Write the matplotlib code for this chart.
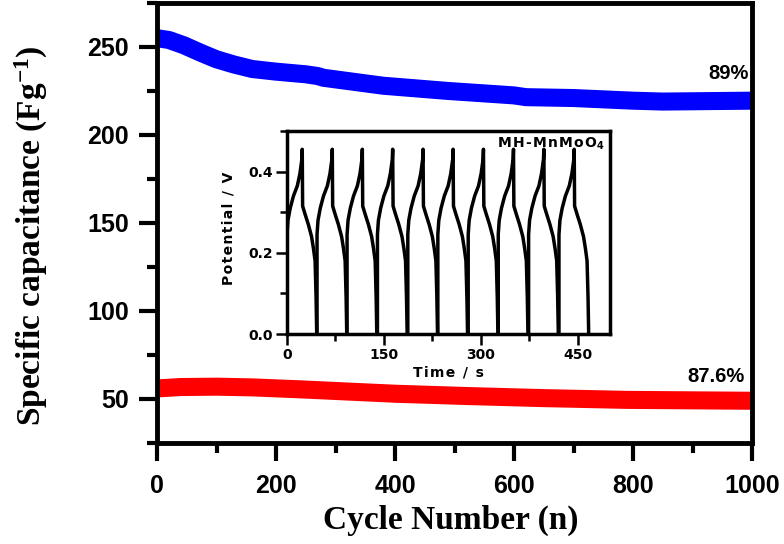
"""
Cycling stability of MH-MnMoO4 with GCD inset.
"""

import matplotlib.pyplot as plt
from matplotlib.ticker import MultipleLocator

plt.rcParams['mathtext.fontset'] = 'custom'
plt.rcParams['mathtext.rm'] = 'Liberation Serif:bold'
plt.rcParams['mathtext.bf'] = 'Liberation Serif:bold'
plt.rcParams['mathtext.sf'] = 'DejaVu Sans:bold'
plt.rcParams['mathtext.default'] = 'bf'

# main curves
blue_cycle = [0, 20, 45, 75, 100, 130, 160, 200, 250, 270, 280, 380, 490,
              600, 620, 700, 800, 850, 1000]
blue_cap = [255, 254, 251, 246.5, 243, 240, 237.5, 236, 234.5, 233.5, 232.5,
            228, 225, 222.5, 221.5, 221, 219.5, 219, 219.5]

red_cycle = [0, 40, 100, 160, 240, 400, 520, 650, 790, 1000]
red_cap = [56, 56.8, 57, 56.6, 55.5, 53, 51.7, 50.5, 49.5, 49]

# inset: one charge/discharge cycle shape and the start time of each cycle
gcd_dt = [0, 0, 1.5, 5, 10, 16, 20, 23, 23.6, 24.2, 28, 33, 38, 41, 43.5, 45, 46]
gcd_v = [0.0, 0.245, 0.28, 0.31, 0.34, 0.365, 0.395, 0.43, 0.455, 0.315,
         0.295, 0.27, 0.24, 0.21, 0.18, 0.09, 0.0]
cycle_start = [0, 46.5, 93, 140, 187, 233.5, 280.5, 327, 374, 421]

SANS = 'Liberation Sans'
SERIF = 'Liberation Serif'
INSET_FONT = 'DejaVu Sans'
HAIR = '\u200a'

fig = plt.figure(figsize=(7.84, 5.44), dpi=100)
ax = fig.add_axes([157 / 784, 1 - 443 / 544, 595 / 784, 440 / 544])

ax.plot(blue_cycle, blue_cap, color='#0000ff', lw=13, solid_capstyle='butt',
        solid_joinstyle='round')
ax.plot(red_cycle, red_cap, color='#ff0000', lw=13, solid_capstyle='butt',
        solid_joinstyle='round')

ax.set_xlim(0, 1000)
ax.set_ylim(25, 275)
ax.xaxis.set_major_locator(MultipleLocator(200))
ax.xaxis.set_minor_locator(MultipleLocator(100))
ax.yaxis.set_major_locator(MultipleLocator(50))
ax.yaxis.set_minor_locator(MultipleLocator(25))
ax.set_yticks([50, 100, 150, 200, 250])

for sp in ax.spines.values():
    sp.set_linewidth(3.5)
ax.tick_params(which='major', direction='out', length=13, width=3, pad=7)
ax.tick_params(which='minor', direction='out', length=7, width=3)
ax.tick_params(axis='x', which='major', pad=9)
for lab in ax.get_xticklabels() + ax.get_yticklabels():
    lab.set_fontfamily(SANS)
    lab.set_fontweight('bold')
    lab.set_fontsize(18)

ax.set_xlabel('Cycle Number (n)', fontfamily=SERIF, fontweight='bold',
              fontsize=24, va='center')
ax.xaxis.set_label_coords((451 - 157) / 595, (443 - 520) / 440)
ax.set_ylabel('Specific capacitance (Fg$^{-1}$)', fontfamily=SERIF,
              fontweight='bold', fontsize=24, va='center')
ax.yaxis.set_label_coords((31 - 157) / 595, (443 - 236) / 440)

ax.text(960, 235, '89%', ha='center', va='center', fontfamily=SANS,
        fontweight='bold', fontsize=14.5)
ax.text(939, 63, '87.6%', ha='center', va='center', fontfamily=SANS,
        fontweight='bold', fontsize=14.5)

# Inset: galvanostatic charge-discharge curves
ins = fig.add_axes([287 / 784, 1 - 334 / 544, 323 / 784, 203 / 544])
for k, t0 in enumerate(cycle_start):
    dts = gcd_dt if k > 0 else gcd_dt[1:]
    vs = gcd_v if k > 0 else gcd_v[1:]
    ins.plot([t0 + d for d in dts], vs, color='black', lw=2.5,
             solid_joinstyle='round')

ins.set_xlim(0, 500)
ins.set_ylim(0, 0.5)
ins.xaxis.set_major_locator(MultipleLocator(150))
ins.xaxis.set_minor_locator(MultipleLocator(75))
ins.yaxis.set_major_locator(MultipleLocator(0.2))
ins.yaxis.set_minor_locator(MultipleLocator(0.1))
ins.set_yticks([0.0, 0.2, 0.4])
ins.set_yticklabels(['0.0', '0.2', '0.4'])
for sp in ins.spines.values():
    sp.set_linewidth(2.5)
ins.tick_params(which='major', direction='out', length=8, width=1.8, pad=2)
ins.tick_params(which='minor', direction='out', length=5, width=1.8)
for lab in ins.get_xticklabels() + ins.get_yticklabels():
    lab.set_fontfamily(INSET_FONT)
    lab.set_fontweight('bold')
    lab.set_fontsize(10)

ins.set_xlabel(HAIR.join('Time / s'), fontfamily=INSET_FONT,
               fontweight='bold', fontsize=10, va='center')
ins.xaxis.set_label_coords(0.5, (334 - 372) / 203)
ins.set_ylabel(HAIR.join('Potential / V'), fontfamily=INSET_FONT,
               fontweight='bold', fontsize=10, va='center')
ins.yaxis.set_label_coords((228 - 287) / 323, 0.52)
ins.text(0.985, 0.975, HAIR.join('MH-MnMoO') + '$_\\mathsf{4}$',
         transform=ins.transAxes, ha='right', va='top',
         fontfamily=INSET_FONT, fontweight='bold', fontsize=10)

fig.savefig('out.png', dpi=100, facecolor='white')
